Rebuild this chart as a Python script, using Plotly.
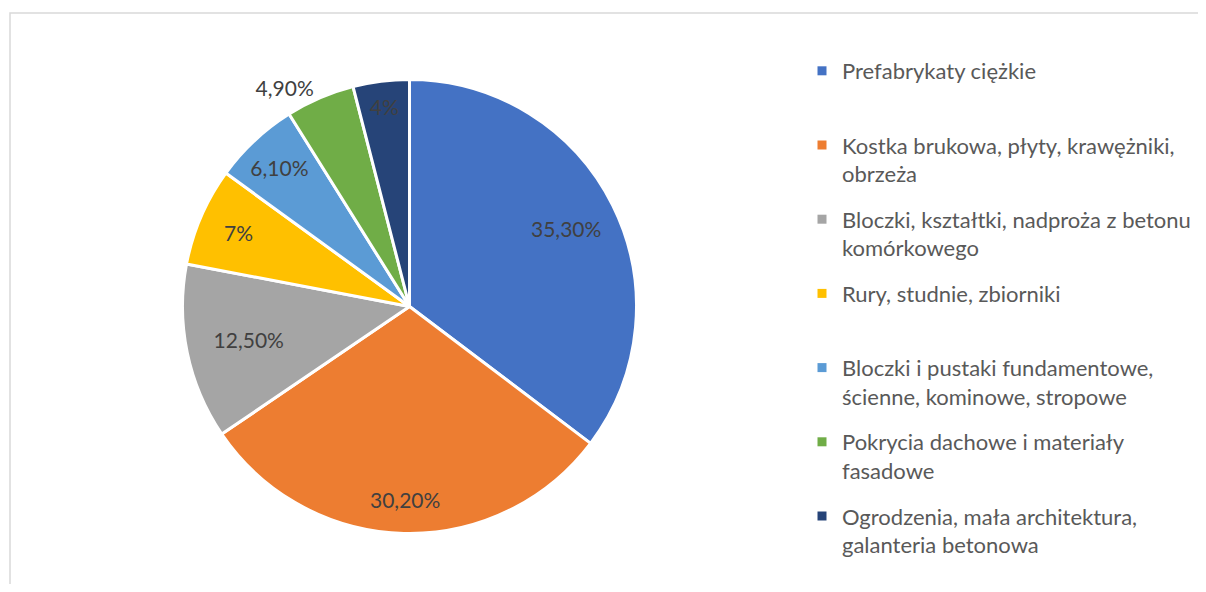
import math
import plotly.graph_objects as go

categories = [
    "Prefabrykaty ciężkie",
    "Kostka brukowa, płyty, krawężniki,<br>obrzeża",
    "Bloczki, kształtki, nadproża z betonu<br>komórkowego",
    "Rury, studnie, zbiorniki",
    "Bloczki i pustaki fundamentowe,<br>ścienne, kominowe, stropowe",
    "Pokrycia dachowe i materiały<br>fasadowe",
    "Ogrodzenia, mała architektura,<br>galanteria betonowa",
]
values = [35.3, 30.2, 12.5, 7.0, 6.1, 4.9, 4.0]
value_labels = ["35,30%", "30,20%", "12,50%", "7%", "6,10%", "4,90%", "4%"]
colors = ["#4472C4", "#ED7D31", "#A5A5A5", "#FFC000", "#5B9BD5", "#70AD47", "#264478"]
# label placement per slice: "annot" = placed along the slice mid-angle
text_positions = ["annot", "annot", "inside", "inside", "inside", "outside", "inside"]
label_radius = [0.77, 0.85, None, None, None, None, None]

W, H = 1190, 576
cx, cy, r = 401.5, 298.5, 227
label_font = dict(family="Lato", size=21, color="#404040")

pie_text = [t if p != "annot" else "" for t, p in zip(value_labels, text_positions)]
pie_pos = [p if p != "annot" else "none" for p in text_positions]

fig = go.Figure()
fig.add_trace(go.Pie(
    labels=categories,
    values=values,
    text=pie_text,
    textinfo="text",
    textposition=pie_pos,
    insidetextorientation="horizontal",
    textfont=label_font,
    marker=dict(colors=colors, line=dict(color="white", width=3)),
    sort=False,
    direction="clockwise",
    rotation=0,
    domain=dict(x=[(cx - r) / W, (cx + r) / W], y=[1 - (cy + r) / H, 1 - (cy - r) / H]),
    hoverinfo="label+text",
    hovertext=value_labels,
    showlegend=False,
))

# legend entries (one group each so they get even spacing)
for i, (c, col) in enumerate(zip(categories, colors)):
    lines = c.split("<br>")
    lines += [" "] * (2 - len(lines))
    fig.add_trace(go.Scatter(
        x=[None], y=[None], mode="markers",
        marker=dict(symbol="square", size=9, color=col),
        name="<br>".join(lines), legendgroup=f"g{i}", showlegend=True,
        hoverinfo="skip",
    ))

# labels for large slices, placed on their mid-angle
total = sum(values)
cum = 0.0
annotations = []
for v, lab, pos, f in zip(values, value_labels, text_positions, label_radius):
    mid = (cum + v / 2) / total * 2 * math.pi
    cum += v
    if pos != "annot":
        continue
    px = cx + f * r * math.sin(mid)
    py = cy - f * r * math.cos(mid)
    annotations.append(dict(x=px / W, y=1 - py / H, xref="paper", yref="paper",
                            text=lab, showarrow=False, font=label_font,
                            xanchor="center", yanchor="middle"))

fig.update_layout(
    width=W, height=H,
    margin=dict(l=0, r=0, t=0, b=0),
    paper_bgcolor="white",
    plot_bgcolor="white",
    xaxis=dict(visible=False),
    yaxis=dict(visible=False),
    showlegend=True,
    legend=dict(
        x=794 / W, y=1 - 42 / H, xanchor="left", yanchor="top",
        font=dict(family="Lato", size=22, color="#595959"),
        valign="top",
        itemwidth=30,
        traceorder="grouped",
        tracegroupgap=14,
    ),
    annotations=annotations,
    shapes=[dict(type="rect", xref="paper", yref="paper",
                 x0=2 / W, x1=1.02, y0=-0.02, y1=1 - 5 / H,
                 line=dict(color="#D9D9D9", width=1.5))],
)

fig.write_html("out.html")
